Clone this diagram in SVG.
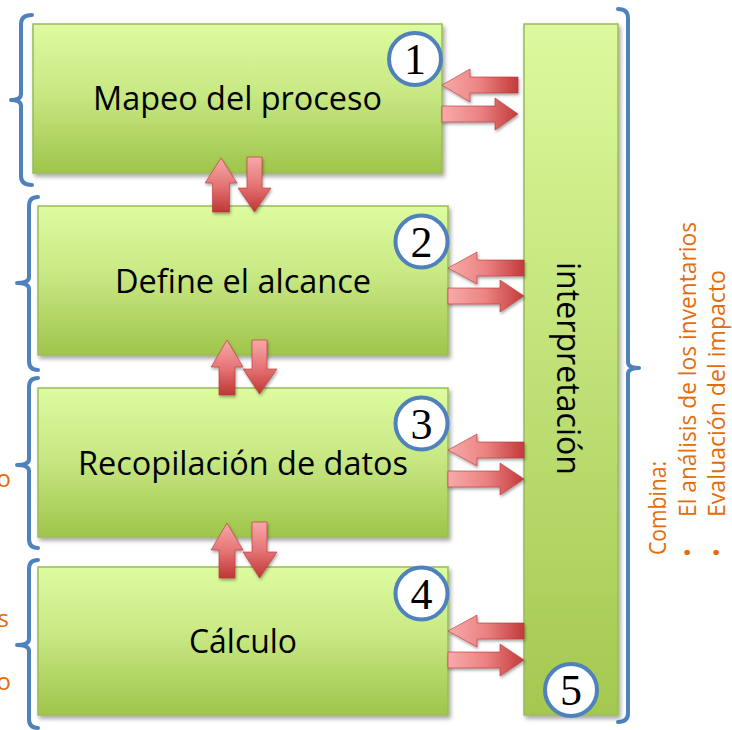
<svg xmlns="http://www.w3.org/2000/svg" width="732" height="730" viewBox="0 0 732 730">
<defs>
<linearGradient id="boxG" x1="0" y1="0" x2="0" y2="1">
<stop offset="0" stop-color="#dcfc9f"/>
<stop offset="0.45" stop-color="#c9e985"/>
<stop offset="1" stop-color="#9fc54b"/>
</linearGradient>
<linearGradient id="colG" x1="0" y1="0" x2="0" y2="1">
<stop offset="0" stop-color="#dcfa9d"/>
<stop offset="1" stop-color="#a4c850"/>
</linearGradient>
<linearGradient id="arH" x1="0" y1="0" x2="1" y2="0">
<stop offset="0" stop-color="#f7aaaa"/>
<stop offset="0.5" stop-color="#ec8282"/>
<stop offset="1" stop-color="#c33a3a"/>
</linearGradient>
<linearGradient id="arV" x1="0" y1="0" x2="0" y2="1">
<stop offset="0" stop-color="#f7a8a8"/>
<stop offset="0.5" stop-color="#e67676"/>
<stop offset="1" stop-color="#bf3636"/>
</linearGradient>
<filter id="sh" x="-10%" y="-10%" width="130%" height="130%">
<feDropShadow dx="2" dy="3" stdDeviation="2" flood-color="#000" flood-opacity="0.35"/>
</filter>
<filter id="ash" x="-20%" y="-20%" width="150%" height="150%">
<feDropShadow dx="1" dy="2" stdDeviation="1.5" flood-color="#000" flood-opacity="0.35"/>
</filter>
</defs>
<style>
.box{fill:url(#boxG);stroke:#9bbb59;stroke-width:1.5;filter:url(#sh)}
.col{fill:url(#colG);stroke:#9bbb59;stroke-width:1.5;filter:url(#sh)}
.lbl{font-family:"Open Sans","Liberation Sans",sans-serif;font-size:33px;fill:#000;text-anchor:middle}
.br{fill:none;stroke:#4f81bd;stroke-width:4;stroke-linecap:round;stroke-linejoin:round}
.num circle{fill:#fff;stroke:#4f81bd;stroke-width:4}
.num text{font-family:"Liberation Serif",serif;font-size:44px;fill:#000;text-anchor:middle}
.ah{fill:url(#arH);stroke:#b83434;stroke-width:0.6;filter:url(#ash)}
.av{fill:url(#arV);stroke:#b83434;stroke-width:0.6;filter:url(#ash)}
.or{font-family:"Open Sans","Liberation Sans",sans-serif;font-size:24px;fill:#e46c0a}
</style>
<rect width="732" height="730" fill="#fff"/>

<g id="brackets">
<path class="br" d="M32,15 Q21,15 21,24 L21,94 Q21,100 11,100 Q21,100 21,106 L21,176 Q21,185 32,185"/>
<path class="br" d="M38,197 Q29,197 29,206 L29,277 Q29,283 17,283 Q29,283 29,289 L29,361 Q29,370 38,370"/>
<path class="br" d="M38,378 Q29,378 29,387 L29,459 Q29,465 17,465 Q29,465 29,471 L29,539 Q29,548 38,548"/>
<path class="br" d="M38,560 Q29,560 29,569 L29,639 Q29,645 17,645 Q29,645 29,651 L29,719 Q29,728 38,728"/>
<path class="br" d="M618,9 Q628,9 628,18 L628,362 Q628,368 639,368 Q628,368 628,374 L628,713 Q628,722 618,722"/>
</g>

<g id="node-interpretacion">
<rect class="col" x="524" y="24" width="94" height="691"/>
<text class="lbl" transform="translate(557,368.5) rotate(90)" textLength="213" lengthAdjust="spacingAndGlyphs">interpretación</text>
</g>

<g id="node-1">
<rect class="box" x="33" y="24" width="409" height="149"/>
<text class="lbl" x="237.5" y="110" textLength="289" lengthAdjust="spacingAndGlyphs">Mapeo del proceso</text>
</g>
<g id="node-2">
<rect class="box" x="38" y="206" width="410" height="149"/>
<text class="lbl" x="243" y="293" textLength="256" lengthAdjust="spacingAndGlyphs">Define el alcance</text>
</g>
<g id="node-3">
<rect class="box" x="38" y="388" width="410" height="149"/>
<text class="lbl" x="243" y="475" textLength="330" lengthAdjust="spacingAndGlyphs">Recopilación de datos</text>
</g>
<g id="node-4">
<rect class="box" x="38" y="567" width="410" height="148"/>
<text class="lbl" x="243" y="653" textLength="108" lengthAdjust="spacingAndGlyphs">Cálculo</text>
</g>

<g id="connectors">
<polygon class="ah" points="442,85 470,69 470,77 518,77 518,93 470,93 470,102"/>
<polygon class="ah" points="442,106 495,106 495,98 518,114 495,130 495,122 442,122"/>
<polygon class="ah" points="448,268 477,252 477,260 524,260 524,276 477,276 477,284"/>
<polygon class="ah" points="448,288 500,288 500,280 524,296 500,312 500,304 448,304"/>
<polygon class="ah" points="448,450 477,434 477,442 524,442 524,458 477,458 477,466"/>
<polygon class="ah" points="448,471 500,471 500,463 524,479 500,495 500,487 448,487"/>
<polygon class="ah" points="448,631 477,615 477,623 524,623 524,639 477,639 477,647"/>
<polygon class="ah" points="448,652 500,652 500,644 524,660 500,676 500,668 448,668"/>

<polygon class="av" points="221,158 237,183 229.5,183 229.5,212 212.5,212 212.5,183 205,183"/>
<polygon class="av" points="247,157 262,157 262,188 271,188 254.5,212 238,188 247,188"/>
<polygon class="av" points="227,340 243,367 235,367 235,395 219,395 219,367 211,367"/>
<polygon class="av" points="252,340 267,340 267,369 277,369 259.5,394 243,369 252,369"/>
<polygon class="av" points="227,523 243,550 235,550 235,578 219,578 219,550 211,550"/>
<polygon class="av" points="252,522 267,522 267,552 277,552 259.5,578 243,552 252,552"/>
</g>

<g id="badges">
<g class="num" id="badge-1"><circle cx="415" cy="59" r="26"/><text x="415" y="74">1</text></g>
<g class="num" id="badge-2"><circle cx="421.5" cy="241.5" r="26"/><text x="421.5" y="256.5">2</text></g>
<g class="num" id="badge-3"><circle cx="421.5" cy="423.5" r="26"/><text x="421.5" y="438.5">3</text></g>
<g class="num" id="badge-4"><circle cx="421.5" cy="593.5" r="26"/><text x="421.5" y="608.5">4</text></g>
<g class="num" id="badge-5"><circle cx="571" cy="690" r="26"/><text x="571" y="705">5</text></g>
</g>

<g id="notes">
<text class="or" transform="translate(666,555) rotate(-90)" textLength="94" lengthAdjust="spacingAndGlyphs">Combina:</text>
<text class="or" transform="translate(696,557) rotate(-90)">•</text>
<text class="or" transform="translate(696,517) rotate(-90)" textLength="295" lengthAdjust="spacingAndGlyphs">El análisis de los inventarios</text>
<text class="or" transform="translate(725,557) rotate(-90)">•</text>
<text class="or" transform="translate(725,517) rotate(-90)" textLength="247" lengthAdjust="spacingAndGlyphs">Evaluación del impacto</text>
<text class="or" x="11" y="487" text-anchor="end" font-size="27">o</text>
<text class="or" x="9" y="627" text-anchor="end" font-size="27">s</text>
<text class="or" x="11" y="690" text-anchor="end" font-size="27">o</text>
</g>
</svg>
